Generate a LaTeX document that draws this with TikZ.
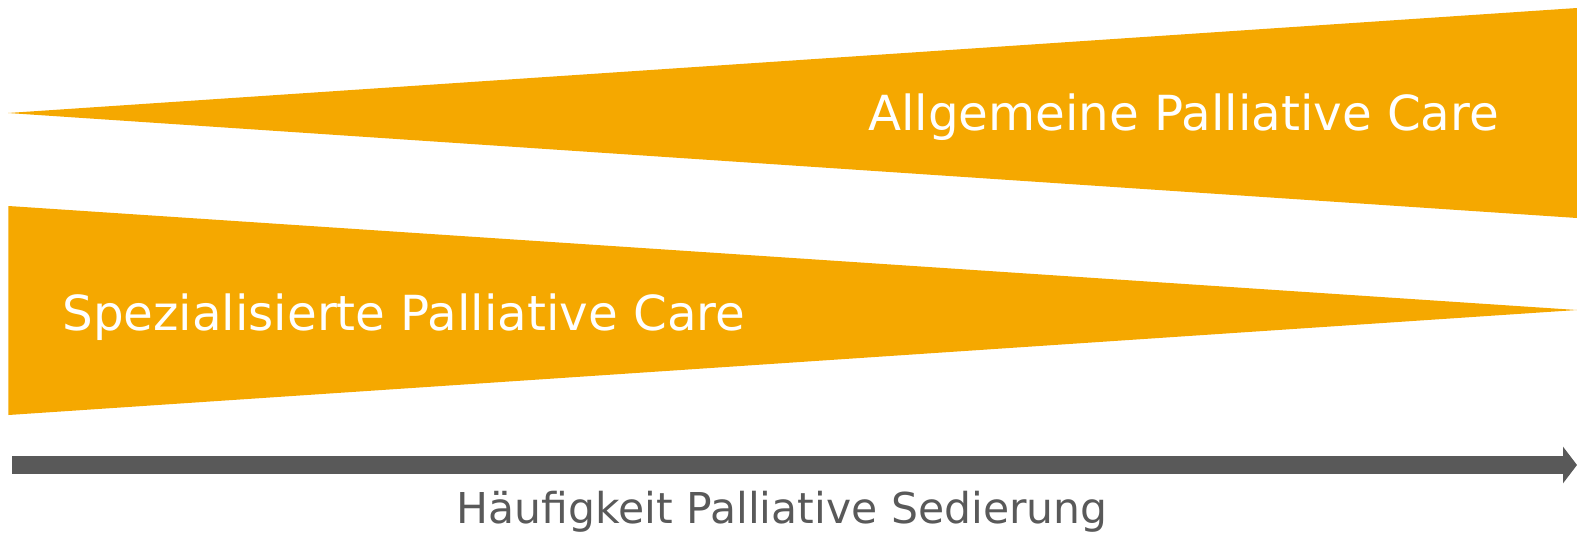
\documentclass[tikz,border=0pt]{standalone}
\usepackage{fontspec}
\setmainfont{DejaVu Sans}
\usepackage{xcolor}
\usepackage{tikz}
\usetikzlibrary{arrows.meta,positioning}
\definecolor{careorange}{HTML}{F5A800}
\definecolor{axisgrey}{HTML}{595959}
\tikzset{
  wedge/.style={fill=careorange, draw=none},
  wedgelabel/.style={font=\fontsize{27.5}{30}\selectfont, text=white,
                     inner sep=0pt, anchor=base west},
  axis/.style={-{Triangle[length=0.28cm, width=0.72cm]}, line width=0.36cm,
               draw=axisgrey},
  axislabel/.style={font=\fontsize{24.2}{27}\selectfont, text=axisgrey,
                    inner sep=0pt, anchor=base},
}

\begin{document}
\begin{tikzpicture}

%% Frame
\useasboundingbox (0,0) rectangle (31.54,10.64);

%% Wedge corners
\def\xL{0.17}
\def\xR{31.54}
\coordinate (agTip) at (0.16,8.38);
\coordinate (agTop) at (\xR,10.48);
\coordinate (agBot) at (\xR,6.28);
\coordinate (spTop) at (\xL,6.52);
\coordinate (spBot) at (\xL,2.34);
\coordinate (spTip) at (\xR,4.44);

%% Wedges
\fill[wedge] (agTip) -- (agTop) -- (agBot) -- cycle;
\fill[wedge] (spTop) -- (spTip) -- (spBot) -- cycle;

%% Labels in the wedges
\node[wedgelabel] (agLabel) at (17.36,8.04) {Allgemeine Palliative Care};
\node[wedgelabel] (spLabel) at (1.24,4.04) {Spezialisierte Palliative Care};

%% Frequency axis
\coordinate (axStart) at (0.24,1.34);
\coordinate (axEnd) at (\xR,1.34);
\draw[axis] (axStart) -- (axEnd);
\node[axislabel] (axLabel) at (15.64,0.18) {Häufigkeit Palliative Sedierung};

\end{tikzpicture}
\end{document}
